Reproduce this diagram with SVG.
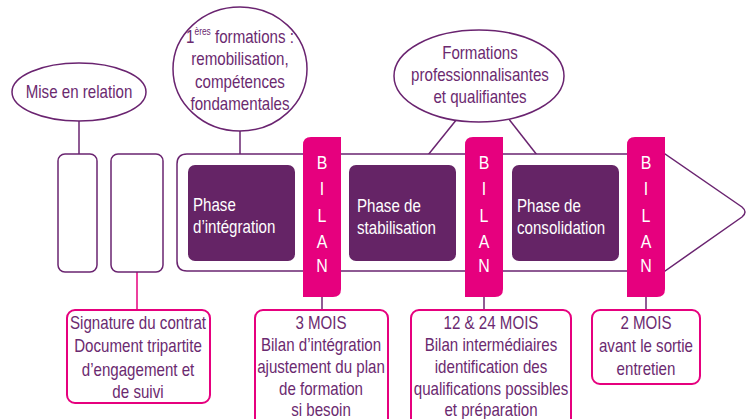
<svg xmlns="http://www.w3.org/2000/svg" width="751" height="419" viewBox="0 0 751 419">
<style>
text{font-family:"Liberation Sans",Arial,sans-serif;font-size:18px;fill:#6B2A70;text-anchor:middle;transform-box:fill-box;transform-origin:center;transform:scaleX(0.84)}
.ln{stroke:#6A2470;stroke-width:1.5;fill:none}
.pk{stroke:#E6007E;stroke-width:1.5;fill:none}
.ov{fill:#fff;stroke:#6A2470;stroke-width:1.5}
.ph{fill:#652466}
.pht{fill:#fff;text-anchor:start;transform-origin:left}
.bar{fill:#E6007E}
.bt{fill:#fff;font-size:19px}
.bx{fill:#fff;stroke:#E6007E;stroke-width:2}
</style>
<g id="connectors">
<line class="ln" x1="79" y1="121" x2="79" y2="155"/>
<line class="ln" x1="240" y1="131" x2="240" y2="155"/>
<line class="ln" x1="457" y1="119" x2="428" y2="155"/>
<line class="ln" x1="508" y1="118" x2="537" y2="155"/>
<line class="pk" x1="137" y1="272" x2="137" y2="310"/>
<line class="ln" x1="322" y1="297" x2="322" y2="310"/>
<line class="ln" x1="484" y1="297" x2="484" y2="310"/>
<line class="ln" x1="646" y1="297" x2="646" y2="310"/>
</g>
<g id="mise-en-relation">
<ellipse class="ov" cx="79" cy="92" rx="67" ry="29"/>
<text x="79" y="98">Mise en relation</text>
</g>
<g id="premieres-formations">
<ellipse class="ov" cx="240" cy="69" rx="67" ry="62"/>
<text x="240" y="43">1<tspan font-size="10" dy="-8">ères</tspan><tspan dy="8"> formations :</tspan></text>
<text x="240" y="65.5">remobilisation,</text>
<text x="240" y="88">compétences</text>
<text x="240" y="110">fondamentales</text>
</g>
<g id="formations-pro">
<ellipse class="ov" cx="479" cy="76" rx="85" ry="46"/>
<text x="480" y="59">Formations</text>
<text x="480" y="81">professionnalisantes</text>
<text x="480" y="103">et qualifiantes</text>
</g>
<g id="rect-1">
<rect class="ov" x="58" y="154" width="39" height="118" rx="7"/>
</g>
<g id="rect-2">
<rect class="ov" x="111" y="154" width="52" height="118" rx="7"/>
</g>
<g id="arrow">
<path class="ov" d="M187,154 H665 L742,207 Q748,212 742,217 L665,271 H187 Q177,271 177,261 V164 Q177,154 187,154 Z"/>
</g>
<g id="phase-integration">
<rect class="ph" x="188" y="165" width="107" height="96" rx="7"/>
<text class="pht" x="193" y="211">Phase</text>
<text class="pht" x="193" y="233">d’intégration</text>
</g>
<g id="phase-stabilisation">
<rect class="ph" x="349" y="165" width="107" height="96" rx="7"/>
<text class="pht" x="357" y="212">Phase de</text>
<text class="pht" x="357" y="234">stabilisation</text>
</g>
<g id="phase-consolidation">
<rect class="ph" x="512" y="165" width="107" height="96" rx="7"/>
<text class="pht" x="517" y="212">Phase de</text>
<text class="pht" x="517" y="234">consolidation</text>
</g>
<g id="bilan-1">
<path class="bar" d="M311,137 H341 V289 Q341,297 333,297 H303 V145 Q303,137 311,137 Z"/>
<text class="bt" x="322" y="169">B</text>
<text class="bt" x="322" y="195">I</text>
<text class="bt" x="322" y="222">L</text>
<text class="bt" x="322" y="248">A</text>
<text class="bt" x="322" y="272">N</text>
</g>
<g id="bilan-2">
<path class="bar" d="M473,137 H503 V289 Q503,297 495,297 H465 V145 Q465,137 473,137 Z"/>
<text class="bt" x="484" y="169">B</text>
<text class="bt" x="484" y="195">I</text>
<text class="bt" x="484" y="222">L</text>
<text class="bt" x="484" y="248">A</text>
<text class="bt" x="484" y="272">N</text>
</g>
<g id="bilan-3">
<path class="bar" d="M635,137 H665 V289 Q665,297 657,297 H627 V145 Q627,137 635,137 Z"/>
<text class="bt" x="646" y="169">B</text>
<text class="bt" x="646" y="195">I</text>
<text class="bt" x="646" y="222">L</text>
<text class="bt" x="646" y="248">A</text>
<text class="bt" x="646" y="272">N</text>
</g>
<g id="signature">
<rect class="bx" x="67" y="310" width="143" height="93" rx="8"/>
<text x="138" y="329">Signature du contrat</text>
<text x="138" y="352.5">Document tripartite</text>
<text x="138" y="376">d’engagement et</text>
<text x="138" y="398">de suivi</text>
</g>
<g id="trois-mois">
<rect class="bx" x="255" y="310" width="133" height="120" rx="8"/>
<text x="321" y="329">3 MOIS</text>
<text x="321" y="351">Bilan d’intégration</text>
<text x="321" y="373">ajustement du plan</text>
<text x="321" y="395">de formation</text>
<text x="321" y="416">si besoin</text>
</g>
<g id="douze-mois">
<rect class="bx" x="411" y="310" width="160" height="120" rx="8"/>
<text x="491" y="329">12 &amp; 24 MOIS</text>
<text x="491" y="351">Bilan intermédiaires</text>
<text x="491" y="373">identification des</text>
<text x="491" y="395">qualifications possibles</text>
<text x="491" y="416">et préparation</text>
</g>
<g id="deux-mois">
<rect class="bx" x="592" y="310" width="108" height="74" rx="8"/>
<text x="646" y="329">2 MOIS</text>
<text x="646" y="352">avant le sortie</text>
<text x="646" y="375">entretien</text>
</g>
</svg>
